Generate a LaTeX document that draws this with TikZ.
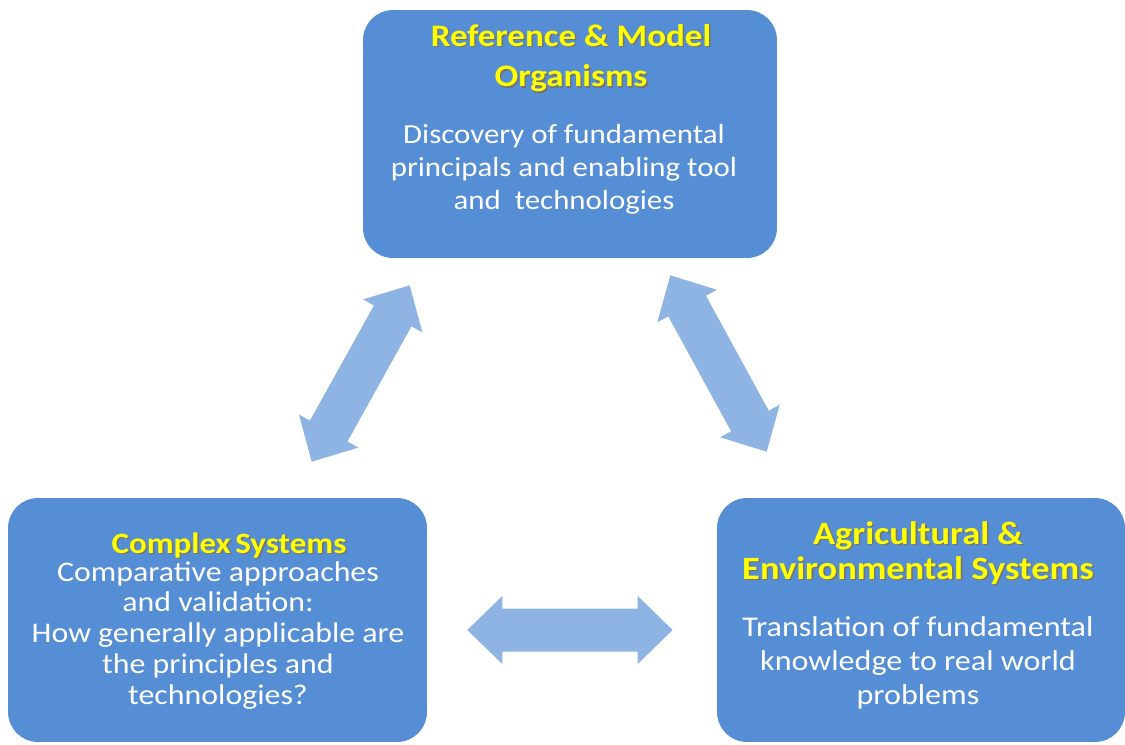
\documentclass[tikz,border=0pt]{standalone}
\usepackage{fontspec}
\setmainfont{Carlito}[FakeStretch=1.12]
\usetikzlibrary{calc}
\definecolor{boxblue}{RGB}{85,142,213}
\definecolor{arrowblue}{RGB}{142,180,227}
\definecolor{titleyellow}{RGB}{255,255,0}
\def\shadowed#1{\makebox[0pt][l]{\color{black!55}\raisebox{-0.9pt}{\hspace{0.9pt}#1}}#1}
\def\blockarrow(#1)(#2){\fill[arrowblue] (#1)
	-- ($(#1)!0.7cm!(#2)!0.68cm!90:(#2)$) -- ($(#1)!0.7cm!(#2)!0.43cm!90:(#2)$)
	-- ($(#2)!0.7cm!(#1)!0.43cm!-90:(#1)$) -- ($(#2)!0.7cm!(#1)!0.68cm!-90:(#1)$)
	-- (#2)
	-- ($(#2)!0.7cm!(#1)!0.68cm!90:(#1)$) -- ($(#2)!0.7cm!(#1)!0.43cm!90:(#1)$)
	-- ($(#1)!0.7cm!(#2)!0.43cm!-90:(#2)$) -- ($(#1)!0.7cm!(#2)!0.68cm!-90:(#2)$)
	-- cycle;}

\begin{document}
\begin{tikzpicture}[x=0.02cm,y=-0.02cm,
	blockbox/.style={fill=boxblue, rounded corners=0.6cm, inner sep=0pt},
	titletext/.style={text=titleyellow, align=center, inner sep=0pt, anchor=north,
		font=\fontsize{17.8}{23}\selectfont\bfseries},
	bodytext/.style={text=white, align=center, inner sep=0pt, anchor=north,
		font=\fontsize{15.7}{18.8}\selectfont}]
	%%%%% START %%%%%
	\useasboundingbox (0,0) rectangle (1125,744);
	
	% boxes
	\node[blockbox, minimum width=8.28cm, minimum height=4.96cm] (rmo) at (570,134) {};
	\node[blockbox, minimum width=8.38cm, minimum height=4.88cm] (cs) at (217.5,620) {};
	\node[blockbox, minimum width=8.16cm, minimum height=4.88cm] (aes) at (921,620) {};
	
	\node[titletext] (rmotitle) at (571,24) {\shadowed{Reference \& Model}\\\shadowed{Organisms}};
	\node[bodytext] (rmobody) at (564,124) {Discovery of fundamental\\principals and enabling tool\\and\ \ technologies};
	
	\node[titletext, font=\fontsize{16.8}{20}\selectfont\bfseries] (cstitle) at (229,532) {\shadowed{Complex\kern0.15em Systems}};
	\node[bodytext, font=\fontsize{16.2}{17.5}\selectfont] (csbody) at (218,561) {Comparative approaches\\and validation:\\How generally applicable are\\the principles and\\technologies?};
	
	\node[titletext, font=\fontsize{18.5}{20}\selectfont\bfseries] (aestitle) at (918,521) {\shadowed{Agricultural \&}\\\shadowed{Environmental Systems}};
	\node[bodytext, font=\fontsize{16.3}{19.3}\selectfont] (aesbody) at (918,616) {Translation of fundamental\\knowledge to real world\\problems};
	
	% arrows
	\coordinate (csup) at ($(cs.north west)+(304,-36)$);
	\coordinate (rmoleft) at ($(rmo.south west)+(47,27)$);
	\coordinate (rmoright) at ($(rmo.south east)+(-107,17)$);
	\coordinate (aesup) at ($(aes.north west)+(50,-46)$);
	\coordinate (csright) at ($(cs.east)+(40,10)$);
	\coordinate (aesleft) at ($(aes.west)+(-44,10)$);
	
	\blockarrow(csup)(rmoleft)
	\blockarrow(rmoright)(aesup)
	\blockarrow(csright)(aesleft)
	%%%%% END %%%%%
\end{tikzpicture}
\end{document}
